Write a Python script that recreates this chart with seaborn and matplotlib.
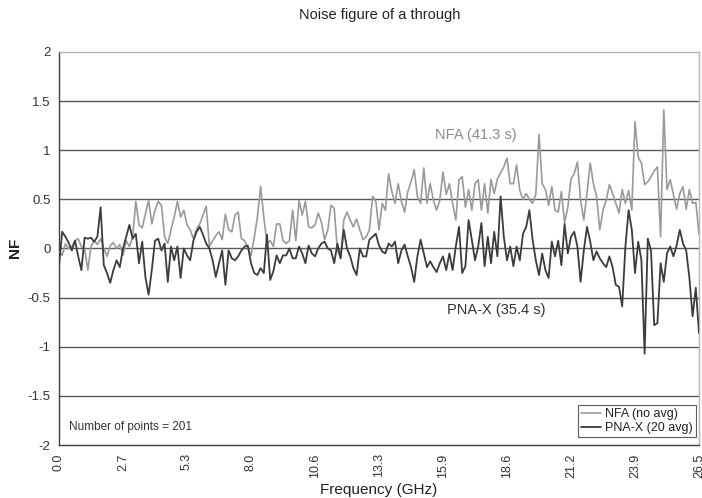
import numpy as np
import pandas as pd
import matplotlib.pyplot as plt
import seaborn as sns

# Frequency grid (201 points, 0 to 26.5 GHz)
freq_ghz = np.linspace(0.0, 26.5, 201)

# NF values
nfa_no_avg = [
    -0.03, -0.07, 0.05, 0.0, 0.02, 0.08, 0.10, 0.02, 0.0, -0.22,
    0.02, 0.08, 0.04, 0.10, 0.0, -0.08, 0.03, 0.06, 0.0, 0.04,
    -0.07, 0.08, 0.02, 0.11, 0.48, 0.24, 0.21,
    0.35, 0.49, 0.25, 0.39, 0.48, 0.44, 0.12, 0.05, 0.19, 0.32,
    0.48, 0.32, 0.39, 0.24, 0.19, 0.10, 0.20, 0.25, 0.34, 0.43,
    0.02, 0.08, 0.13, 0.17,
    0.09, 0.35, 0.19, 0.17, 0.34, 0.37, 0.10, 0.08, 0.0, -0.07,
    0.11, 0.32, 0.63, 0.32, 0.05, 0.08, 0.02, 0.25, 0.25, 0.08,
    0.05, 0.08, 0.39, 0.08, 0.49, 0.34, 0.48,
    0.22, 0.21, 0.24, 0.36, 0.27, 0.09, 0.19, 0.44, 0.41, -0.02,
    -0.10, 0.29, 0.37, 0.29, 0.22, 0.30, 0.19, 0.09, 0.12, 0.19,
    0.53, 0.48, 0.19,
    0.46, 0.39, 0.76, 0.58, 0.46, 0.66, 0.48, 0.37, 0.58, 0.68,
    0.80, 0.53, 0.46, 0.82, 0.46, 0.66, 0.49, 0.39, 0.49, 0.78,
    0.55, 0.66, 0.46, 0.29, 0.70,
    0.73, 0.42, 0.60, 0.39, 0.66, 0.70, 0.39, 0.66, 0.36, 0.70,
    0.56, 0.71, 0.77, 0.83, 0.92, 0.66, 0.66, 0.85, 0.59, 0.50,
    0.56, 0.50, 0.46, 0.55, 1.16,
    0.66, 0.60, 0.44, 0.63, 0.39, 0.37, 0.58, 0.26, 0.42, 0.71,
    0.76, 0.88, 0.49, 0.29, 0.56, 0.87, 0.66, 0.53, 0.19, 0.39,
    0.49, 0.65, 0.56, 0.46, 0.36, 0.60,
    0.46, 0.59, 0.39, 1.29, 0.93, 0.87, 0.65, 0.68, 0.73, 0.79,
    0.83, 0.12, 1.41, 0.60, 0.70, 0.55, 0.40, 0.56, 0.63, 0.40,
    0.60, 0.46, 0.47, 0.15,
]

pnax_20_avg = [
    -0.18, 0.17, 0.12, 0.06, -0.02, 0.08, -0.08, -0.22, 0.11, 0.10,
    0.11, 0.07, 0.12, 0.42, -0.17, -0.25, -0.35, -0.22, -0.12, -0.19,
    0.0, 0.12, 0.24, 0.10, 0.15, -0.15, 0.07,
    -0.29, -0.47, -0.22, 0.08, 0.10, -0.02, 0.05, -0.34, 0.02, -0.12,
    0.02, -0.30, 0.0, -0.07, -0.12, 0.08, 0.17, 0.22, 0.14, 0.05,
    0.0, -0.12, -0.29, -0.15, -0.02,
    -0.37, -0.02, -0.10, -0.12, -0.08, -0.02, 0.02, 0.03, -0.15, -0.25,
    -0.27, -0.20, -0.25, 0.14, -0.32, -0.23, -0.07, -0.15, -0.07, -0.07,
    0.0, -0.10, -0.10, 0.02, -0.05,
    -0.15, 0.03, -0.05, -0.08, 0.0, 0.05, 0.07, 0.0, -0.02, -0.15,
    0.05, -0.10, 0.19, 0.0, -0.08, -0.20, -0.27, 0.0, -0.08, -0.08,
    0.09, 0.12, 0.15, 0.03, -0.03,
    -0.05, 0.05, 0.02, 0.07, -0.15, -0.02, 0.04, -0.08, -0.19, -0.34,
    -0.08, 0.09, -0.05, -0.19, -0.13, -0.19, -0.24, -0.15, -0.08, -0.22,
    -0.05, -0.22, 0.02, 0.22, -0.25,
    -0.18, 0.29, 0.09, -0.12, 0.02, 0.26, -0.18, 0.12, -0.15, 0.17,
    -0.08, 0.53, 0.12, -0.12, 0.02, -0.18, 0.02, -0.12, 0.15, 0.22,
    0.39, 0.09, -0.12, -0.27, -0.05,
    -0.22, -0.30, 0.07, -0.08, 0.08, -0.17, 0.25, -0.05, 0.12, 0.17,
    0.02, -0.34, -0.02, 0.22, 0.07, -0.12, -0.03, -0.10, -0.15, -0.19,
    -0.08, -0.19, -0.37, -0.39, -0.59,
    0.02, 0.39, 0.19, -0.25, 0.07, -0.12, -1.07, 0.10, -0.02, -0.78,
    -0.76, -0.15, -0.34, -0.05, 0.02, -0.08, 0.03, 0.19, 0.05, -0.02,
    -0.30, -0.69, -0.40, -0.86,
]

x_tick_labels = ["0.0", "2.7", "5.3", "8.0", "10.6", "13.3", "15.9",
                 "18.6", "21.2", "23.9", "26.5"]
y_ticks = [-2, -1.5, -1, -0.5, 0, 0.5, 1, 1.5, 2]
y_tick_labels = ["-2", "-1.5", "-1", "-0.5", "0", "0.5", "1", "1.5", "2"]

data = pd.DataFrame({"freq": freq_ghz, "nfa": nfa_no_avg, "pnax": pnax_20_avg})

sns.set_style("white")
plt.rcParams['font.family'] = ['Liberation Sans', 'DejaVu Sans']
plt.rcParams['axes.unicode_minus'] = False

fig = plt.figure(figsize=(7.02, 4.98), dpi=100)
ax = fig.add_axes([59 / 702, 1 - 445 / 498, 640 / 702, 393 / 498])

gray = "#9a9a9a"
dark = "#3c3c3c"

# horizontal gridlines
for yv in [-1.5, -1, -0.5, 0, 0.5, 1, 1.5]:
    ax.axhline(yv, color="#5a5a5a", lw=1.0, zorder=1)

sns.lineplot(data=data, x="freq", y="nfa", color=gray, lw=1.2,
             label="NFA (no avg)", ax=ax, zorder=3)
sns.lineplot(data=data, x="freq", y="pnax", color=dark, lw=1.3,
             label="PNA-X (20 avg)", ax=ax, zorder=4)

ax.set_xlim(0, 26.5)
ax.set_ylim(-2, 2)
ax.set_xticks(freq_ghz[::20])
ax.set_xticklabels(x_tick_labels, rotation=90, fontsize=9)
ax.set_xticks(freq_ghz[::5], minor=True)
ax.set_yticks(y_ticks)
ax.set_yticklabels(y_tick_labels, fontsize=9.5)
ax.tick_params(axis="both", which="both", direction="out", length=4,
               width=1, color="#404040", labelcolor="#333333", pad=2)
ax.tick_params(axis="x", which="minor", length=4)

for side in ["left", "bottom"]:
    ax.spines[side].set_color("#404040")
    ax.spines[side].set_linewidth(1.0)
for side in ["top", "right"]:
    ax.spines[side].set_color("#b5b5b5")
    ax.spines[side].set_linewidth(1.0)

ax.set_xlabel("Frequency (GHz)", fontsize=11, color="#222222", labelpad=4)
ax.set_ylabel("")
fig.text(15 / 702, 1 - 248 / 498, "NF", rotation=90, ha="center", va="center",
         fontsize=11, fontweight="bold", color="#222222")
fig.text(0.541, 0.97, "Noise figure of a through", ha="center", va="center",
         fontsize=10.5, color="#222222")

ax.text(17.27, 1.155, "NFA (41.3 s)", ha="center", va="center",
        fontsize=10.5, color="#8c8c8c")
ax.text(18.1, -0.63, "PNA-X (35.4 s)", ha="center", va="center",
        fontsize=10.5, color="#333333")
ax.text(0.42, -1.82, "Number of points = 201", ha="left", va="center",
        fontsize=8.5, color="#333333")

leg = ax.legend(loc="lower right", bbox_to_anchor=(0.995, 0.02), fontsize=9,
                frameon=True, fancybox=False, edgecolor="#333333",
                handlelength=1.6, handletextpad=0.3, borderpad=0.25,
                labelspacing=0.15, borderaxespad=0)
leg.get_frame().set_linewidth(0.8)
for t in leg.get_texts():
    t.set_color("#222222")

fig.savefig("out.png", dpi=100)
